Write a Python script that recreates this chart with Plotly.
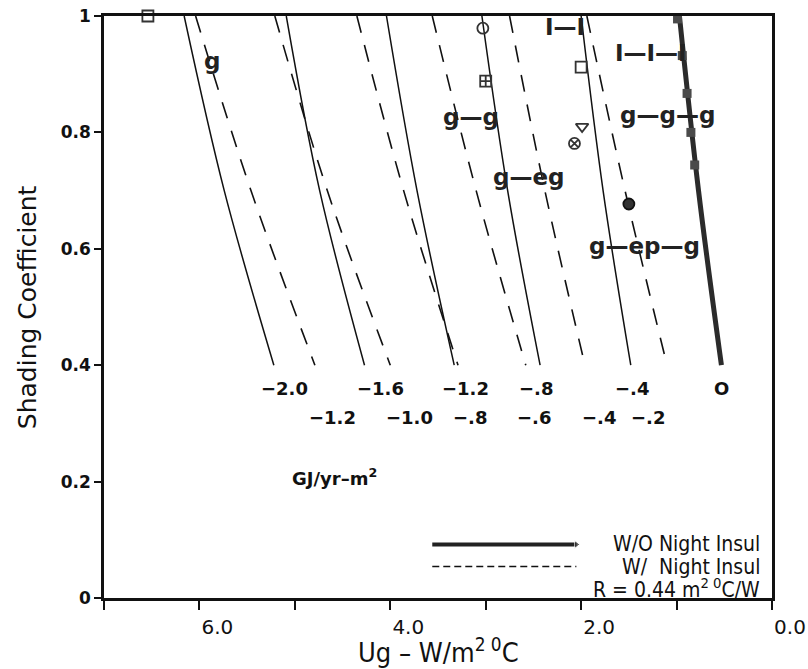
import plotly.graph_objects as go

# ---- data ----
Y_PTS = [1.0, 0.7, 0.4]  # shading coefficient at which the contour points were read

# W/O night insulation contours (solid), x = Ug at Y_PTS
SOLID_LEVELS = ["\u22122.0", "\u22121.6", "\u22121.2", "\u2212.8", "\u2212.4", "O"]
SOLID_TOP = [6.16, 5.09, 4.04, 3.04, 2.00, 0.97]
SOLID_MID = [5.74, 4.74, 3.72, 2.77, 1.77, 0.77]
SOLID_BOT = [5.22, 4.27, 3.33, 2.43, 1.48, 0.53]
SOLID_LABEL_X = [5.11, 4.10, 3.21, 2.47, 1.47, 0.53]
SOLID_LABEL_Y = 0.36

# W/ night insulation contours (dashed)
DASHED_LEVELS = ["\u22121.2", "\u22121.0", "\u2212.8", "\u2212.6", "\u2212.4", "\u2212.2"]
DASHED_TOP = [6.04, 5.21, 4.35, 3.56, 2.75, 1.94]
DASHED_MID = [5.46, 4.66, 3.86, 3.10, 2.38, 1.54]
DASHED_BOT = [4.79, 4.00, 3.29, 2.58, 1.96, 1.10]
DASHED_LABEL_X = [4.61, 3.80, 3.16, 2.49, 1.81, 1.30]
DASHED_LABEL_Y = 0.311

# glazing symbols
SYM_X = [6.54, 3.03, 3.00, 2.00, 1.99, 2.07, 1.50]
SYM_Y = [1.00, 0.979, 0.888, 0.912, 0.81, 0.781, 0.677]
SYM_SHAPE = ["square-open", "circle-open", "square-cross-open", "square-open",
             "triangle-down-open", "circle-x-open", "circle"]

# filled blobs on the zero contour
BLOB_X = [0.99, 0.94, 0.89, 0.85, 0.81]
BLOB_Y = [0.995, 0.932, 0.867, 0.80, 0.744]

# glazing type labels
GL_TEXT = ["g", "I\u2014I", "I\u2014I\u2014I", "g\u2014g", "g\u2014g\u2014g", "g\u2014eg", "g\u2014ep\u2014g"]
GL_X = [5.87, 2.17, 1.27, 3.15, 1.10, 2.545, 1.34]
GL_Y = [0.922, 0.981, 0.936, 0.827, 0.83, 0.723, 0.605]

X_TICKS = [6, 4, 2, 0]
X_TICKTEXT = ["6.0", "4.0", "2.0", "0.0"]
Y_TICKS = [0, 0.2, 0.4, 0.6, 0.8, 1.0]
Y_TICKTEXT = ["0", "0.2", "0.4", "0.6", "0.8", "1"]

LEG_SOLID_X = [3.56, 2.05]
LEG_SOLID_Y = 0.092
LEG_DASH_Y = 0.054
LEG_TEXT_X = 0.11
R_TEXT_Y = 0.017

FONT = "DejaVu Sans, Verdana, Arial, sans-serif"
NARROW = "DejaVu Sans Condensed, Liberation Sans Narrow, Arial Narrow, DejaVu Sans, sans-serif"
INK = "#111111"

fig = go.Figure()

# dashed contours
for i in range(len(DASHED_TOP)):
    fig.add_trace(go.Scatter(
        x=[DASHED_TOP[i], DASHED_MID[i], DASHED_BOT[i]], y=Y_PTS,
        mode="lines", line=dict(color=INK, width=1.6, dash="17px,13px", shape="spline"),
        hoverinfo="skip", showlegend=False))

# solid contours
for i in range(len(SOLID_TOP)):
    thick = (i == len(SOLID_TOP) - 1)
    fig.add_trace(go.Scatter(
        x=[SOLID_TOP[i], SOLID_MID[i], SOLID_BOT[i]], y=Y_PTS,
        mode="lines",
        line=dict(color="#2b2b2b" if thick else INK, width=5 if thick else 1.5, shape="spline"),
        hoverinfo="skip", showlegend=False))

# blobs on zero contour
fig.add_trace(go.Scatter(
    x=BLOB_X, y=BLOB_Y, mode="markers",
    marker=dict(symbol="square", size=9, color="#4a4a4a"),
    hoverinfo="skip", showlegend=False, cliponaxis=False))

# glazing symbols
fig.add_trace(go.Scatter(
    x=SYM_X, y=SYM_Y, mode="markers",
    marker=dict(symbol=SYM_SHAPE, size=11, color="#333333",
                line=dict(color=INK, width=1.8)),
    hoverinfo="skip", showlegend=False, cliponaxis=False))

# legend samples
fig.add_trace(go.Scatter(
    x=LEG_SOLID_X, y=[LEG_SOLID_Y, LEG_SOLID_Y], mode="lines+markers",
    line=dict(color="#222222", width=4),
    marker=dict(symbol=["line-ns", "triangle-right"], size=[0, 7], color="#222222"),
    hoverinfo="skip", showlegend=False))
fig.add_trace(go.Scatter(
    x=LEG_SOLID_X, y=[LEG_DASH_Y, LEG_DASH_Y], mode="lines",
    line=dict(color=INK, width=1.4, dash="7px,4px"),
    hoverinfo="skip", showlegend=False))

ann = []
for t, x in zip(SOLID_LEVELS, SOLID_LABEL_X):
    ann.append(dict(x=x, y=SOLID_LABEL_Y, text=t, showarrow=False,
                    font=dict(family=FONT, size=18, color=INK, weight="bold")))
for t, x in zip(DASHED_LEVELS, DASHED_LABEL_X):
    ann.append(dict(x=x, y=DASHED_LABEL_Y, text=t, showarrow=False,
                    font=dict(family=FONT, size=18, color=INK, weight="bold")))
for t, x, y in zip(GL_TEXT, GL_X, GL_Y):
    ann.append(dict(x=x, y=y, text=t, showarrow=False,
                    font=dict(family=FONT, size=23, color="#222222", weight="bold")))
ann.append(dict(x=4.58, y=0.208, text="GJ/yr\u2013m<sup>2</sup>", showarrow=False,
                font=dict(family=FONT, size=18, color=INK, weight="bold")))
ann.append(dict(x=LEG_TEXT_X, y=LEG_SOLID_Y, text="W/O Night Insul", showarrow=False,
                xanchor="right", font=dict(family=NARROW, size=21, color=INK)))
ann.append(dict(x=LEG_TEXT_X, y=LEG_DASH_Y, text="W/\u00a0\u00a0Night Insul", showarrow=False,
                xanchor="right", font=dict(family=NARROW, size=21, color=INK)))
ann.append(dict(x=LEG_TEXT_X, y=R_TEXT_Y, text="R = 0.44 m<sup>2 0</sup>C/W", showarrow=False,
                xanchor="right", font=dict(family=NARROW, size=21, color=INK)))
# axis titles
ann.append(dict(xref="paper", yref="paper", x=0.5, y=-0.091, yanchor="middle",
                text="Ug \u2013 W/m<sup>2 0</sup>C", showarrow=False,
                font=dict(family=NARROW, size=27, color=INK)))
ann.append(dict(xref="paper", yref="paper", x=-0.115, y=0.5, xanchor="center",
                text="Shading Coefficient", textangle=-90, showarrow=False,
                font=dict(family=FONT, size=25, color=INK)))

fig.update_layout(
    width=808, height=669,
    margin=dict(l=104, r=36, t=16, b=71, autoexpand=False),
    paper_bgcolor="white", plot_bgcolor="white",
    annotations=ann,
    xaxis=dict(range=[7, 0], tickvals=X_TICKS, ticktext=X_TICKTEXT,
               ticks="outside", ticklen=9, tickwidth=1.5, tickcolor=INK,
               minor=dict(dtick=1, tick0=0, ticks="outside", ticklen=9,
                          tickwidth=1.5, tickcolor=INK, showgrid=False),
               showline=True, linewidth=2.5, linecolor=INK, mirror=True,
               showgrid=False, zeroline=False, ticklabelshift=-18,
               ticklabeloverflow="allow", automargin=False,
               tickfont=dict(family=FONT, size=20, color=INK)),
    yaxis=dict(range=[0, 1], tickvals=Y_TICKS, ticktext=Y_TICKTEXT,
               ticks="outside", ticklen=7, tickwidth=1.5, tickcolor=INK,
               showline=True, linewidth=2.5, linecolor=INK, mirror=True,
               showgrid=False, zeroline=False, automargin=False,
               tickfont=dict(family=FONT, size=17, color=INK, weight="bold")),
)

fig.write_html("out.html")
